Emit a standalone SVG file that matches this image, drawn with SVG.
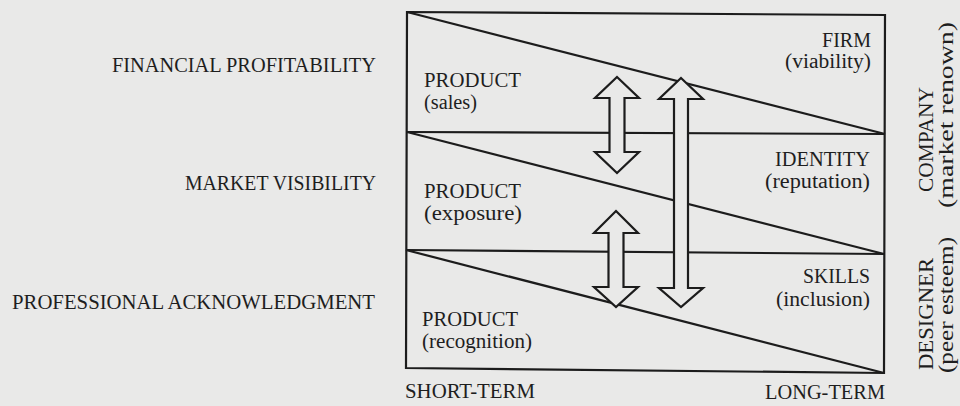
<svg xmlns="http://www.w3.org/2000/svg" width="960" height="406" viewBox="0 0 960 406">
<style>
.ln{fill:none;stroke:#1c1c1c;stroke-width:2.2;stroke-linejoin:miter}
.ar{fill:#e9e9e8;stroke:#1c1c1c;stroke-width:2.2;stroke-linejoin:miter}
text{font-family:"Liberation Serif","Times New Roman",serif;font-size:20px;fill:#1e1e1e}
.r{text-anchor:end}
.m{text-anchor:middle}
</style>
<rect x="0" y="0" width="960" height="406" fill="#e9e9e8"/>
<g id="frame">
<polygon class="ln" points="407,12 885,15 884,373 406,368"/>
<line class="ln" x1="407" y1="132" x2="885" y2="134"/>
<line class="ln" x1="406" y1="250" x2="884" y2="254"/>
<line class="ln" x1="407" y1="12" x2="885" y2="134"/>
<line class="ln" x1="407" y1="132" x2="884" y2="254"/>
<line class="ln" x1="406" y1="250" x2="884" y2="373"/>
</g>
<g id="row-financial">
<text class="r" x="376" y="72" textLength="264" lengthAdjust="spacingAndGlyphs">FINANCIAL PROFITABILITY</text>
<text x="424" y="87" textLength="97" lengthAdjust="spacingAndGlyphs">PRODUCT</text>
<text x="424" y="109" textLength="53" lengthAdjust="spacingAndGlyphs">(sales)</text>
<text class="r" x="871" y="47" textLength="49" lengthAdjust="spacingAndGlyphs">FIRM</text>
<text class="r" x="871" y="68" textLength="86" lengthAdjust="spacingAndGlyphs">(viability)</text>
</g>
<g id="row-market">
<text class="r" x="376" y="190" textLength="191" lengthAdjust="spacingAndGlyphs">MARKET VISIBILITY</text>
<text x="424" y="198" textLength="97" lengthAdjust="spacingAndGlyphs">PRODUCT</text>
<text x="424" y="220" textLength="98" lengthAdjust="spacingAndGlyphs">(exposure)</text>
<text class="r" x="870" y="166" textLength="95" lengthAdjust="spacingAndGlyphs">IDENTITY</text>
<text class="r" x="870" y="188" textLength="105" lengthAdjust="spacingAndGlyphs">(reputation)</text>
</g>
<g id="row-professional">
<text class="r" x="375" y="309" textLength="363" lengthAdjust="spacingAndGlyphs">PROFESSIONAL ACKNOWLEDGMENT</text>
<text x="422" y="326" textLength="96" lengthAdjust="spacingAndGlyphs">PRODUCT</text>
<text x="422" y="348" textLength="110" lengthAdjust="spacingAndGlyphs">(recognition)</text>
<text class="r" x="870" y="283" textLength="67" lengthAdjust="spacingAndGlyphs">SKILLS</text>
<text class="r" x="870" y="306" textLength="94" lengthAdjust="spacingAndGlyphs">(inclusion)</text>
</g>
<g id="axis-time">
<text x="405" y="398" textLength="130" lengthAdjust="spacingAndGlyphs">SHORT-TERM</text>
<text class="r" x="885" y="399" textLength="120" lengthAdjust="spacingAndGlyphs">LONG-TERM</text>
</g>
<g id="axis-company">
<text class="m" transform="translate(933,139.5) rotate(-90)" x="0" y="0" textLength="105" lengthAdjust="spacingAndGlyphs">COMPANY</text>
<text class="m" transform="translate(953,115) rotate(-90)" x="0" y="0" textLength="186" lengthAdjust="spacingAndGlyphs">(market renown)</text>
</g>
<g id="axis-designer">
<text class="m" transform="translate(933,314) rotate(-90)" x="0" y="0" textLength="112" lengthAdjust="spacingAndGlyphs">DESIGNER</text>
<text class="m" transform="translate(953,305) rotate(-90)" x="0" y="0" textLength="136" lengthAdjust="spacingAndGlyphs">(peer esteem)</text>
</g>
<g id="connectors">
<path class="ar" d="M617,77 L639,98 L624.5,98 L624.5,152 L639,152 L617,173 L595,152 L609.5,152 L609.5,98 L595,98 Z"/>
<path class="ar" d="M681,78 L703,99 L688,99 L688,288 L703,288 L681,307 L659,288 L674,288 L674,99 L659,99 Z"/>
<path class="ar" d="M616,211 L638,233 L623.5,233 L623.5,287 L638,287 L616,307 L594,287 L608.5,287 L608.5,233 L594,233 Z"/>
</g>
</svg>
